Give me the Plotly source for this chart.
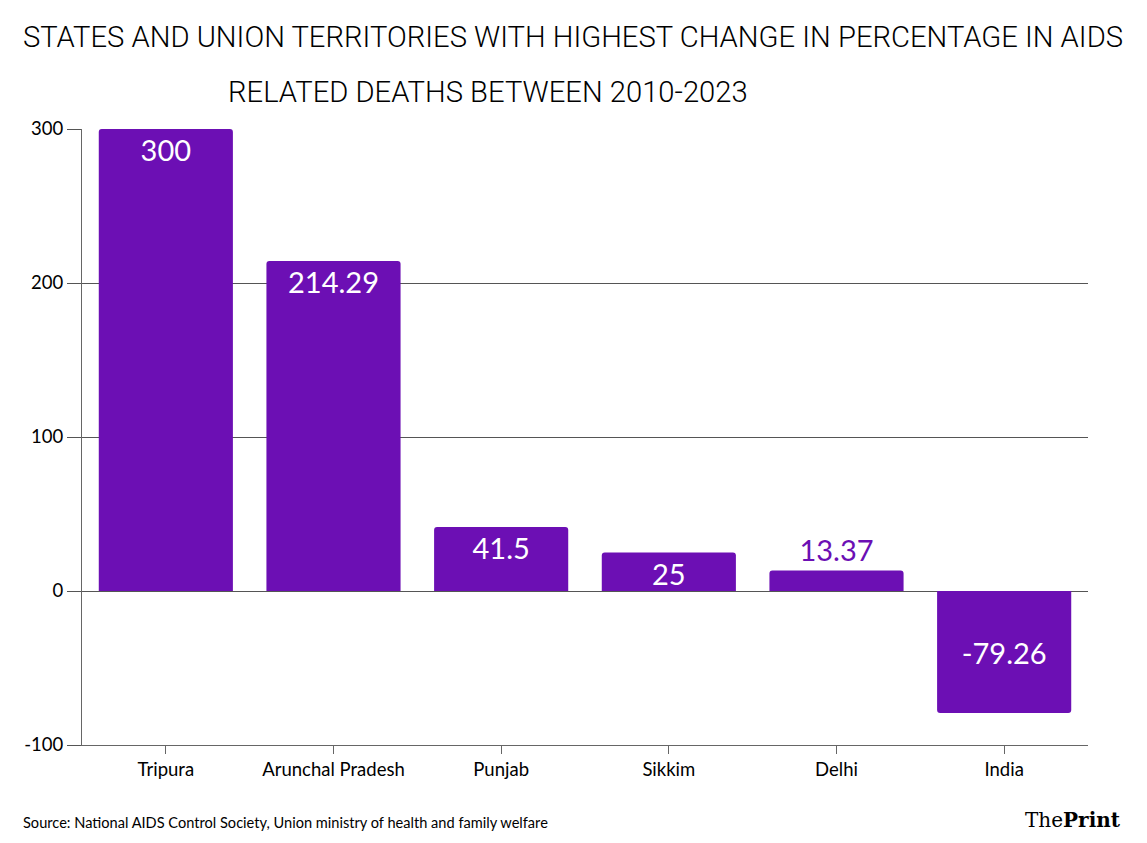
import plotly.graph_objects as go

categories = ["Tripura", "Arunchal Pradesh", "Punjab", "Sikkim", "Delhi", "India"]
values = [300, 214.29, 41.5, 25, 13.37, -79.26]
labels = ["300", "214.29", "41.5", "25", "13.37", "-79.26"]
text_positions = ["inside", "inside", "inside", "inside", "outside", "inside"]
y_ticks = [-100, 0, 100, 200, 300]
y_tick_text = ["-100", "0", "100", "200", "300"]

BAR = "#6c0fb4"
LABEL_FONT = "Lato"

main_idx = [i for i in range(len(categories)) if categories[i] != "India"]
mid_idx = [i for i in range(len(categories)) if categories[i] == "India"]

fig = go.Figure()
fig.add_trace(go.Bar(
    x=[categories[i] for i in main_idx],
    y=[values[i] for i in main_idx],
    text=[labels[i] for i in main_idx],
    textposition=[text_positions[i] for i in main_idx],
    insidetextanchor="end",
    textangle=0,
    insidetextfont=dict(color="white", size=29, family=LABEL_FONT),
    outsidetextfont=dict(color=BAR, size=29, family=LABEL_FONT),
    marker=dict(color=BAR, line=dict(width=0)),
    cliponaxis=False,
    hoverinfo="x+y",
))
fig.add_trace(go.Bar(
    x=[categories[i] for i in mid_idx],
    y=[values[i] for i in mid_idx],
    text=[labels[i] for i in mid_idx],
    textposition=[text_positions[i] for i in mid_idx],
    insidetextanchor="middle",
    textangle=0,
    insidetextfont=dict(color="white", size=29, family=LABEL_FONT),
    marker=dict(color=BAR, line=dict(width=0)),
    hoverinfo="x+y",
))

# page body has an 8px margin: figure origin sits at (8, 8) in the window
fig.update_layout(
    width=1131, height=827,
    paper_bgcolor="white", plot_bgcolor="white",
    margin=dict(l=74, r=51, t=121, b=90),
    barmode="overlay",
    bargap=0.2,
    barcornerradius=3,
    showlegend=False,
    uniformtext=dict(minsize=29, mode="show"),
    font=dict(family=LABEL_FONT, color="black"),
)
fig.update_xaxes(
    categoryorder="array", categoryarray=categories,
    showline=True, linecolor="#666666", linewidth=1,
    ticks="outside", ticklen=8, tickcolor="#666666",
    tickfont=dict(size=18.5, family=LABEL_FONT, color="black"),
    showgrid=False,
    anchor="y",
)
fig.update_yaxes(
    range=[-100, 300], tickvals=y_ticks, ticktext=y_tick_text,
    showline=True, linecolor="#666666", linewidth=1,
    ticks="outside", ticklen=14, tickcolor="#555555",
    tickfont=dict(size=18.5, family=LABEL_FONT, color="black"),
    showgrid=True, gridcolor="#555555", gridwidth=1,
    zeroline=True, zerolinecolor="#555555", zerolinewidth=1,
)

TITLE_FONT = dict(family="Roboto", size=29.2, color="black", weight=300)
fig.add_annotation(
    text="STATES AND UNION TERRITORIES WITH HIGHEST CHANGE IN PERCENTAGE IN AIDS",
    xref="paper", yref="paper", x=(573 - 82) / 1006, y=1 + (129 - 37) / 616,
    xanchor="center", yanchor="middle", showarrow=False,
    font=TITLE_FONT,
)
fig.add_annotation(
    text="RELATED DEATHS BETWEEN 2010-2023",
    xref="paper", yref="paper", x=(226 - 82) / 1006, y=1 + (129 - 92) / 616,
    xanchor="left", yanchor="middle", showarrow=False,
    font=TITLE_FONT,
)
fig.add_annotation(
    text="Source: National AIDS Control Society, Union ministry of health and family welfare",
    xref="paper", yref="paper", x=(21 - 82) / 1006, y=-(822 - 745) / 616,
    xanchor="left", yanchor="middle", showarrow=False,
    font=dict(family=LABEL_FONT, size=14.6, color="black"),
)
fig.add_annotation(
    text="The<b>Print</b>",
    xref="paper", yref="paper", x=(1123 - 82) / 1006, y=-(820 - 745) / 616,
    xanchor="right", yanchor="middle", showarrow=False,
    font=dict(family="DejaVu Serif", size=20, color="black"),
)

fig.write_html("out.html")
